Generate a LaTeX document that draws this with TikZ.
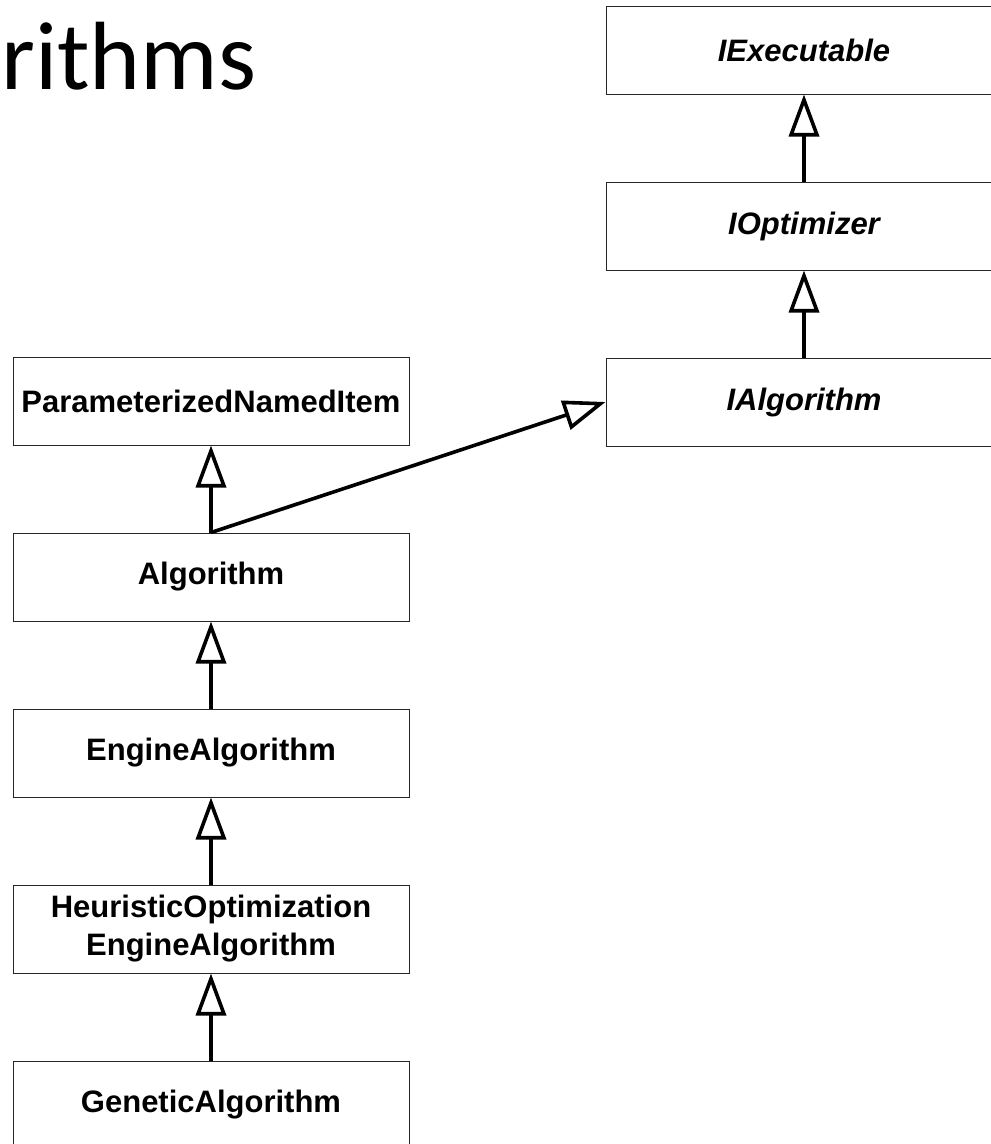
\documentclass[tikz,border=0pt]{standalone}
\usepackage{fontspec}
\setmainfont{Liberation Sans}
\newfontfamily\titlefont{Carlito}
\usetikzlibrary{arrows.meta}
\begin{document}
\begin{tikzpicture}[x=1pt,y=-1pt,
  cls/.style={draw=black!85, line width=1pt, fill=white, minimum width=396pt, minimum height=88pt,
    inner sep=0pt, align=center, font=\fontsize{31}{38}\selectfont\bfseries},
  iface/.style={cls, font=\fontsize{31}{38}\selectfont\bfseries\itshape},
  inh/.style={line width=3.6pt, -{Triangle[open, fill=white, length=42pt, width=30pt, line width=3.6pt]}}
]
\useasboundingbox (0,0) rectangle (991,1144);
\node[anchor=base west, inner sep=0pt, font=\titlefont\fontsize{97}{104}\selectfont] (title) at (1,89) {rithms};

\node[iface] (iexec) at (804,50) {IExecutable};
\node[iface] (iopt) at (804,226) {IOptimizer};
\node[iface] (ialg) at (804,402) {IAlgorithm};

\node[cls] (pni) at (211,401) {ParameterizedNamedItem};
\node[cls] (alg) at (211,577) {Algorithm};
\node[cls] (eng) at (211,753) {EngineAlgorithm};
\node[cls] (heur) at (211,929) {HeuristicOptimization\\EngineAlgorithm};
\node[cls] (gen) at (211,1105) {GeneticAlgorithm};

\draw[inh] (iopt.north) -- (iexec.south);
\draw[inh] (ialg.north) -- (iopt.south);
\draw[inh] (alg.north) -- (pni.south);
\draw[inh] (alg.north) -- (ialg.west);
\draw[inh] (eng.north) -- (alg.south);
\draw[inh] (heur.north) -- (eng.south);
\draw[inh] (gen.north) -- (heur.south);
\end{tikzpicture}
\end{document}
